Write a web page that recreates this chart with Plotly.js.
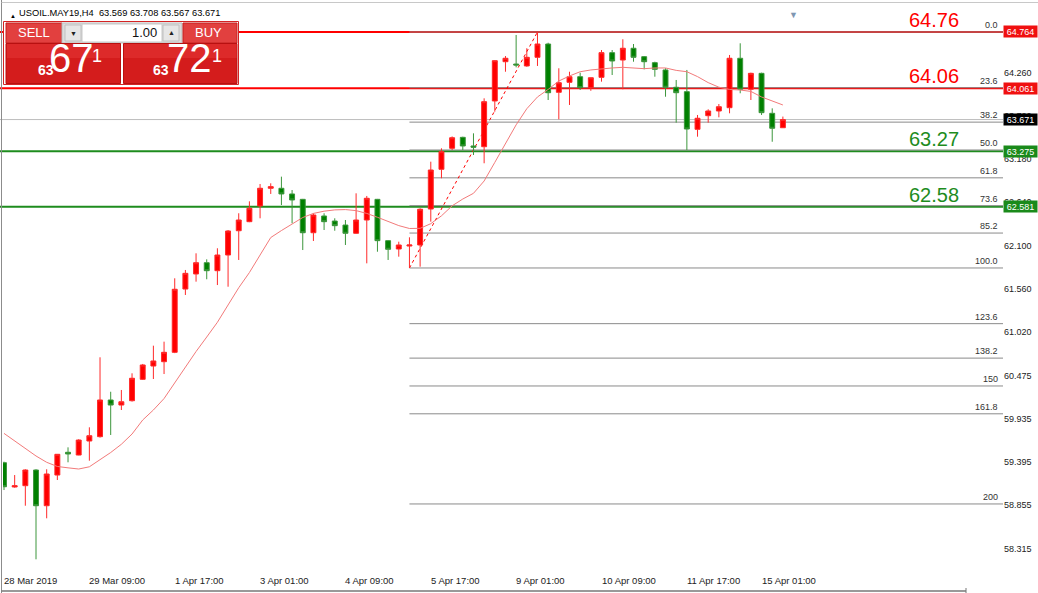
<!DOCTYPE html>
<html><head><meta charset="utf-8">
<script src="https://cdn.plot.ly/plotly-3.0.1.min.js"></script>
<style>html,body{margin:0;padding:0;background:#fff}#chart{width:1038px;height:593px}</style>
</head><body><div id="chart"></div>
<script>
// ---------------- DATA ----------------
const symbolTitle = 'USOIL.MAY19,H4';
const headerOHLC = ['63.569', '63.708', '63.567', '63.671'];

const opens = [59.387,59.084,59.100,59.296,58.850,59.233,59.517,59.483,59.658,59.712,
60.170,60.107,60.161,60.428,60.594,60.648,60.765,61.555,61.743,61.884,
61.784,61.980,62.283,62.396,62.592,62.813,62.813,62.742,62.675,62.258,
62.467,62.404,62.354,62.251,62.417,62.675,62.159,62.055,62.092,62.105,
62.554,63.050,63.312,63.449,63.341,63.332,63.903,64.393,64.364,64.340,
64.448,64.614,64.011,64.136,64.206,64.069,64.198,64.506,64.414,64.561,
64.456,64.381,64.290,64.074,64.019,63.549,63.719,63.778,63.819,64.436,
64.049,64.248,63.749,63.569];
const highs = [59.400,59.233,59.305,59.305,59.305,59.492,59.579,59.680,59.829,60.703,
60.273,60.295,60.503,60.620,60.848,60.898,61.689,61.793,62.001,61.926,
62.064,62.292,62.501,62.650,62.866,62.875,62.958,62.791,62.680,62.501,
62.501,62.438,62.417,62.750,62.717,62.680,62.165,62.146,62.201,62.563,
63.145,63.312,63.460,63.457,63.499,63.936,64.410,64.464,64.727,64.561,
64.764,64.630,64.311,64.268,64.256,64.193,64.539,64.539,64.673,64.614,
64.464,64.393,64.311,64.165,64.290,63.728,63.799,63.865,64.477,64.623,
64.256,64.256,63.811,63.708];
const lows = [59.046,59.075,58.850,58.181,58.693,59.171,59.392,59.480,59.412,59.700,
59.733,60.045,60.150,60.420,60.432,60.494,60.755,61.481,61.647,61.677,
61.605,61.584,61.918,62.390,62.438,62.742,62.604,62.376,62.042,62.155,
62.292,62.283,62.105,62.245,61.876,62.021,61.918,61.959,61.818,61.834,
62.396,62.938,63.290,63.291,63.228,63.125,63.769,64.268,64.323,64.330,
64.340,63.915,63.674,63.853,64.040,64.030,64.144,64.227,64.049,64.393,
64.298,64.206,63.956,63.632,63.291,63.457,63.632,63.699,63.749,63.999,
63.915,63.728,63.394,63.567];
const closes = [59.087,59.100,59.296,58.850,59.246,59.492,59.496,59.670,59.724,60.170,
60.107,60.148,60.441,60.607,60.657,60.765,61.552,61.751,61.884,61.784,
61.980,62.280,62.417,62.563,62.813,62.833,62.742,62.667,62.258,62.479,
62.396,62.346,62.251,62.417,62.688,62.159,62.051,62.105,62.105,62.551,
63.041,63.270,63.444,63.341,63.325,63.894,64.406,64.436,64.352,64.448,
64.614,64.006,64.131,64.206,64.069,64.193,64.506,64.402,64.561,64.448,
64.393,64.298,64.074,64.006,63.553,63.687,63.778,63.831,64.436,64.049,
64.248,63.757,63.562,63.671];
const movingAverage = [59.753,59.658,59.573,59.471,59.392,59.340,59.323,59.308,59.336,59.421,
59.514,59.617,59.745,59.920,60.045,60.188,60.384,60.582,60.775,60.956,
61.140,61.356,61.571,61.761,61.980,62.198,62.285,62.369,62.448,62.499,
62.527,62.543,62.547,62.534,62.499,62.451,62.394,62.347,62.311,62.313,
62.371,62.469,62.594,62.679,62.750,62.904,63.136,63.374,63.605,63.806,
63.953,64.047,64.152,64.215,64.268,64.290,64.306,64.315,64.323,64.316,
64.306,64.315,64.315,64.285,64.268,64.207,64.132,64.075,64.047,64.040,
64.022,63.953,63.898,63.853];

const dateLabels = ['28 Mar 2019','29 Mar 09:00','1 Apr 17:00','3 Apr 01:00','4 Apr 09:00',
                    '5 Apr 17:00','9 Apr 01:00','10 Apr 09:00','11 Apr 17:00','15 Apr 01:00'];
const dateLabelBars = [0, 8, 16, 24, 32, 40, 48, 56, 64, 71];

const priceTickLabels = ['58.315','58.855','59.395','59.935','60.475','61.020','61.560',
                         '62.100','62.640','63.180','63.720','64.260','64.800'];

const levelPrices = [64.764, 64.061, 63.275, 62.581];
const levelLabels = ['64.76', '64.06', '63.27', '62.58'];
const levelKinds  = ['resistance', 'resistance', 'support', 'support'];

const bidPrice = 63.671;

const fibLow = 61.818, fibHigh = 64.764;
const fibStartBar = 38, fibEndBar = 50;
const fibLevels = [0, 23.6, 38.2, 50, 61.8, 73.6, 85.2, 100, 123.6, 138.2, 150, 161.8, 200];
const fibLabels = ['0.0','23.6','38.2','50.0','61.8','73.6','85.2','100.0','123.6','138.2','150','161.8','200'];

const lotSize = '1.00';
const sellQuote = ['63', '67', '1'];
const buyQuote  = ['63', '72', '1'];

// ---------------- LAYOUT HELPERS ----------------
const W = 1038, H = 593, ML = 3, MR = 35, MT = 5, MB = 26;
const PW = W - ML - MR, PH = H - MT - MB;
const px = x => (x - ML) / PW;
const py = y => 1 - (y - MT) / PH;
const xMin = -0.094, xMax = 93.63;
const yMin = 58.085, yMax = 65.101;

const RED = '#ff0000', GREEN = '#1e8c1e', FONT = 'Liberation Sans, Arial, sans-serif';
const NARROW = 'Liberation Sans Narrow, Liberation Sans, Arial, sans-serif';
const kindColor = {resistance: RED, support: GREEN};
const bars = opens.map((_, i) => i);

const traces = [
  {
    type: 'candlestick', x: bars, open: opens, high: highs, low: lows, close: closes,
    increasing: {line: {color: '#ff2a2a', width: 1}, fillcolor: '#ff0000'},
    decreasing: {line: {color: '#3c963c', width: 1}, fillcolor: '#008000'},
    whiskerwidth: 0, hoverinfo: 'skip', showlegend: false
  },
  {
    type: 'scatter', mode: 'lines', x: bars, y: movingAverage,
    line: {color: '#f27a7a', width: 1}, hoverinfo: 'skip', showlegend: false
  }
];

const shapes = [];
const annotations = [];

// bid line
shapes.push({type: 'line', xref: 'paper', yref: 'y', x0: -0.003, x1: 1, y0: bidPrice, y1: bidPrice,
  line: {color: '#bdbdbd', width: 1}, layer: 'below'});

// fibonacci levels
fibLevels.forEach((lv, k) => {
  const p = fibHigh - lv / 100 * (fibHigh - fibLow);
  shapes.push({type: 'line', xref: 'x', yref: 'y', x0: fibStartBar, x1: xMax, y0: p, y1: p,
    line: {color: '#8a8a8a', width: 1}, layer: 'below'});
  annotations.push({xref: 'paper', yref: 'y', x: px(1000), y: p, xanchor: 'right', yanchor: 'bottom',
    yshift: 0, text: fibLabels[k], showarrow: false, font: {size: 9, color: '#333', family: FONT}, borderpad: 1});
});
// fibonacci trend line
shapes.push({type: 'line', xref: 'x', yref: 'y', x0: fibStartBar, y0: fibLow, x1: fibEndBar, y1: fibHigh,
  line: {color: RED, width: 1, dash: 'dot'}, layer: 'below'});

// support / resistance lines
levelPrices.forEach((p, k) => {
  const c = kindColor[levelKinds[k]];
  shapes.push({type: 'line', xref: 'paper', yref: 'y', x0: -0.003, x1: 1, y0: p, y1: p,
    line: {color: c, width: 2}, layer: 'below'});
  annotations.push({xref: 'paper', yref: 'y', x: px(907), y: p, xanchor: 'left', yanchor: 'bottom',
    yshift: -1, text: levelLabels[k], showarrow: false, font: {size: 20, color: c, family: FONT}, borderpad: 1});
  annotations.push({xref: 'paper', yref: 'y', x: 1, y: p, xanchor: 'left', yanchor: 'middle',
    text: p.toFixed(3), showarrow: false, bgcolor: c === RED ? '#f01010' : '#1a8a1a',
    width: 33, height: 11, borderpad: 0, font: {size: 9, color: '#fff', family: FONT}});
});
// bid tag
annotations.push({xref: 'paper', yref: 'y', x: 1, y: bidPrice, xanchor: 'left', yanchor: 'middle',
  text: bidPrice.toFixed(3), showarrow: false, bgcolor: '#000', width: 33, height: 11, borderpad: 0,
  font: {size: 9, color: '#fff', family: FONT}});

// date labels
dateLabels.forEach((t, k) => {
  annotations.push({xref: 'x', yref: 'paper', x: dateLabelBars[k], y: py(580), xanchor: 'left',
    yanchor: 'middle', xshift: -2, text: t, showarrow: false, font: {size: 9.5, color: '#222', family: FONT}});
});

// frame lines
shapes.push({type: 'line', xref: 'paper', yref: 'paper', x0: px(1.5), x1: px(1.5), y0: py(593), y1: py(0),
  line: {color: '#8c8c8c', width: 1}, layer: 'above'});
shapes.push({type: 'line', xref: 'paper', yref: 'paper', x0: px(1.5), x1: px(1038), y0: py(2.5), y1: py(2.5),
  line: {color: '#c8c8c8', width: 1}, layer: 'above'});
shapes.push({type: 'line', xref: 'paper', yref: 'paper', x0: px(1.5), x1: px(966), y0: py(591), y1: py(591),
  line: {color: '#777', width: 1.5}, layer: 'above'});
shapes.push({type: 'line', xref: 'paper', yref: 'paper', x0: px(966), x1: px(966), y0: py(588), y1: py(593),
  line: {color: '#777', width: 1}, layer: 'above'});

// header
annotations.push({xref: 'paper', yref: 'paper', x: px(8), y: py(11), text: '▲', showarrow: false,
  font: {size: 6, color: '#000', family: FONT}});
annotations.push({xref: 'paper', yref: 'paper', x: px(17), y: py(13), xanchor: 'left', yanchor: 'middle',
  text: symbolTitle + '  ' + headerOHLC.join(' '), showarrow: false, font: {size: 9.3, color: '#000', family: FONT}});
// chart shift marker
annotations.push({xref: 'paper', yref: 'paper', x: px(800), y: py(8), text: '▼', showarrow: false,
  font: {size: 9, color: '#7f97b2', family: FONT}});

// one-click trading panel
function rect(x0, y0, x1, y1, fill, line) {
  shapes.push({type: 'rect', xref: 'paper', yref: 'paper', x0: px(x0), x1: px(x1), y0: py(y1), y1: py(y0),
    fillcolor: fill, line: {color: line || fill, width: line ? 1 : 0}, layer: 'above'});
}
function txt(x, y, t, size, color, family, bold) {
  annotations.push({xref: 'paper', yref: 'paper', x: px(x), y: py(y), xanchor: 'center', yanchor: 'middle',
    text: bold ? '<b>' + t + '</b>' : t, showarrow: false, font: {size: size, color: color, family: family || FONT}});
}
rect(3.5, 21.5, 238.5, 84.5, '#ffffff', '#d42424');
rect(6, 23, 62, 43, '#e2403f', '#c42020');
rect(62, 23, 182, 43, '#dcdcdc', '#bdbdbd');
rect(82, 24, 162, 42, '#ffffff', '#c8c8c8');
rect(65, 25, 81, 41, '#e6e6e6', '#c0c0c0');
rect(163, 25, 179, 41, '#e6e6e6', '#c0c0c0');
rect(183, 23, 237, 43, '#e2403f', '#c42020');
rect(6, 43.5, 120.5, 83.5, '#d41c1c', '#b81010');
rect(123.5, 43.5, 237, 83.5, '#d41c1c', '#b81010');
rect(7, 44, 120, 58, '#dd2a2a');
rect(124, 44, 236.5, 58, '#dd2a2a');

txt(33.5, 33, 'SELL', 13, '#ffffff', NARROW);
txt(208.5, 33, 'BUY', 13, '#ffffff', NARROW);
txt(73, 33.5, '▼', 7, '#222');
txt(171, 33, '▲', 7, '#222');
annotations.push({xref: 'paper', yref: 'paper', x: px(159), y: py(33), xanchor: 'right', yanchor: 'middle',
  text: lotSize, showarrow: false, font: {size: 13, color: '#111', family: FONT}});

txt(45.5, 70, sellQuote[0], 14, '#ffffff', FONT, true);
txt(71.5, 58, sellQuote[1], 40, '#ffffff', NARROW);
txt(97, 56, sellQuote[2], 18, '#ffffff', NARROW);
txt(161, 70, buyQuote[0], 14, '#ffffff', FONT, true);
txt(189, 58, buyQuote[1], 40, '#ffffff', NARROW);
txt(216.5, 56, buyQuote[2], 18, '#ffffff', NARROW);

const layout = {
  width: W, height: H,
  margin: {l: ML, r: MR, t: MT, b: MB, pad: 0},
  paper_bgcolor: '#ffffff', plot_bgcolor: '#ffffff',
  font: {family: FONT, color: '#222'},
  showlegend: false,
  boxgap: 0.34,
  xaxis: {range: [xMin, xMax], showgrid: false, zeroline: false, showticklabels: false,
          showline: false, ticks: '', rangeslider: {visible: false}, fixedrange: true},
  yaxis: {range: [yMin, yMax], side: 'right', showgrid: false, zeroline: false, showline: false,
          ticks: '', tickvals: priceTickLabels.map(Number), ticktext: priceTickLabels,
          tickfont: {size: 9, color: '#222', family: FONT}, fixedrange: true},
  shapes: shapes,
  annotations: annotations
};

Plotly.newPlot('chart', traces, layout, {staticPlot: true, displayModeBar: false});
</script>
</body></html>
